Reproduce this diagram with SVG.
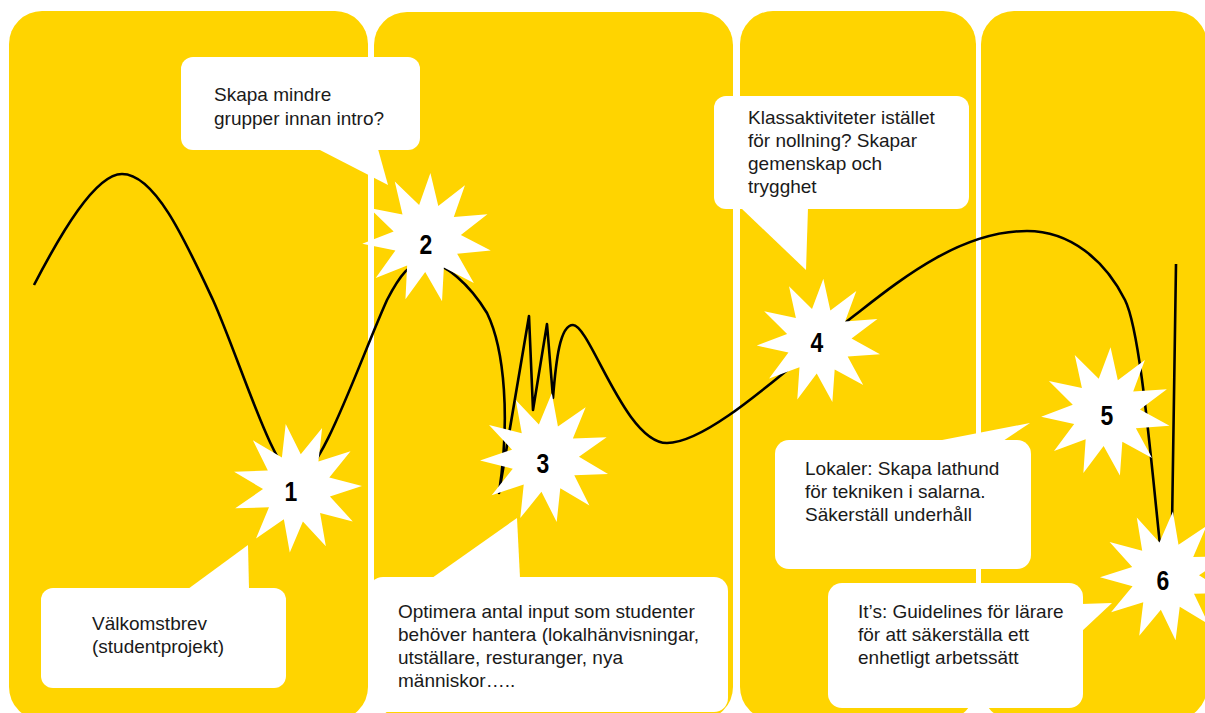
<svg xmlns="http://www.w3.org/2000/svg" width="1205" height="713" viewBox="0 0 1205 713">
<style>
.panel{fill:#FFD400}
.bubble{fill:#FFFFFF}
.txt{font-family:"Liberation Sans",Arial,sans-serif;font-size:19px;fill:#1a1a1a}
.num{font-family:"Liberation Sans",Arial,sans-serif;font-weight:bold;font-size:28px;fill:#000;text-anchor:middle}
.star{fill:#FFFFFF}
.curve{fill:none;stroke:#000;stroke-width:2.6;stroke-linejoin:round;stroke-linecap:butt}
</style>
<defs>
<polygon id="star" points="0,-65 9.58,-32.62 35.14,-54.68 25.69,-22.27 59.12,-27 33.65,-4.84 64.34,9.25 30.93,14.12 49.12,42.57 18.38,28.6 18.31,62.37 0,34 -18.31,62.37 -18.38,28.6 -49.12,42.57 -30.93,14.12 -64.34,9.25 -33.65,-4.84 -59.12,-27 -25.69,-22.27 -35.14,-54.68 -9.58,-32.62"/>
</defs>
<rect width="1205" height="713" fill="#FFFFFF"/>
<g id="panels">
<rect class="panel" x="9" y="11" width="359" height="709" rx="33"/>
<rect class="panel" x="374" y="12" width="359" height="708" rx="33"/>
<rect class="panel" x="740" y="11" width="236" height="709" rx="33"/>
<rect class="panel" x="981" y="11" width="226" height="709" rx="33"/>
</g>
<g id="connectors">
<path class="curve" d="M34,285 C60,235 95,174 122,174 C155,174 185,240 213,300 C240,360 275,478 297,478 C320,478 360,360 387,300 C400,275 410,262 425,262 C445,262 470,285 487,313 C505,350 510,420 499,493 L529,316 L533,410 L547,324 L553,398 C556,360 560,325 573,325 C590,325 625,443 667,443 C710,443 790,365 855,315 C900,280 960,231 1027,231 C1070,231 1105,260 1125,300 C1140,330 1150,450 1160,545 Q1166,562 1172,527 L1176,264"/>
</g>
<g id="star1"><use href="#star" class="star" transform="translate(297,488) rotate(-10)"/><text class="num" transform="translate(291,501) scale(0.82,1)">1</text></g>
<g id="star2"><use href="#star" class="star" transform="translate(427,238) rotate(3)"/><text class="num" transform="translate(426,254) scale(0.82,1)">2</text></g>
<g id="star3"><use href="#star" class="star" transform="translate(545,458) rotate(6)"/><text class="num" transform="translate(543,473) scale(0.82,1)">3</text></g>
<g id="star4"><use href="#star" class="star" transform="translate(819,341) rotate(4) scale(0.96)"/><text class="num" transform="translate(817,352) scale(0.82,1)">4</text></g>
<g id="star5"><use href="#star" class="star" transform="translate(1106,412) rotate(4)"/><text class="num" transform="translate(1107,425) scale(0.82,1)">5</text></g>
<g id="star6"><use href="#star" class="star" transform="translate(1165,576) rotate(7)"/><text class="num" transform="translate(1163,590) scale(0.82,1)">6</text></g>
<g id="note1">
<rect class="bubble" x="41" y="588" width="245" height="100" rx="12"/>
<polygon class="bubble" points="188,589 249,589 248,545"/>
<text class="txt" x="92" y="630">Välkomstbrev</text>
<text class="txt" x="92" y="653">(studentprojekt)</text>
</g>
<g id="note2">
<rect class="bubble" x="181" y="57" width="239" height="93" rx="12"/>
<polygon class="bubble" points="318,149 378,149 388,185"/>
<text class="txt" x="214" y="101">Skapa mindre</text>
<text class="txt" x="214" y="125">grupper innan intro?</text>
</g>
<g id="note3">
<rect class="bubble" x="369" y="577" width="359" height="135" rx="14"/>
<polygon class="bubble" points="432,578 520,578 517,518"/>
<text class="txt" x="398" y="618">Optimera antal input som studenter</text>
<text class="txt" x="398" y="641">behöver hantera (lokalhänvisningar,</text>
<text class="txt" x="398" y="664">utställare, resturanger, nya</text>
<text class="txt" x="398" y="687">människor…..</text>
</g>
<g id="note4">
<rect class="bubble" x="714" y="96" width="255" height="113" rx="12"/>
<polygon class="bubble" points="741,208 808,208 806,270"/>
<text class="txt" x="748" y="124">Klassaktiviteter istället</text>
<text class="txt" x="748" y="147">för nollning? Skapar</text>
<text class="txt" x="748" y="170">gemenskap och</text>
<text class="txt" x="748" y="193">trygghet</text>
</g>
<g id="note5">
<rect class="bubble" x="775" y="440" width="256" height="129" rx="14"/>
<polygon class="bubble" points="937,441 1003,441 1030,423"/>
<text class="txt" x="805" y="475">Lokaler: Skapa lathund</text>
<text class="txt" x="805" y="498">för tekniken i salarna.</text>
<text class="txt" x="805" y="521">Säkerställ underhåll</text>
</g>
<g id="note6">
<rect class="bubble" x="828" y="583" width="255" height="125" rx="14"/>
<polygon class="bubble" points="1081,604 1112,603 1081,632"/>
<text class="txt" x="858" y="618">It’s: Guidelines för lärare</text>
<text class="txt" x="858" y="641">för att säkerställa ett</text>
<text class="txt" x="858" y="664">enhetligt arbetssätt</text>
</g>
</svg>
